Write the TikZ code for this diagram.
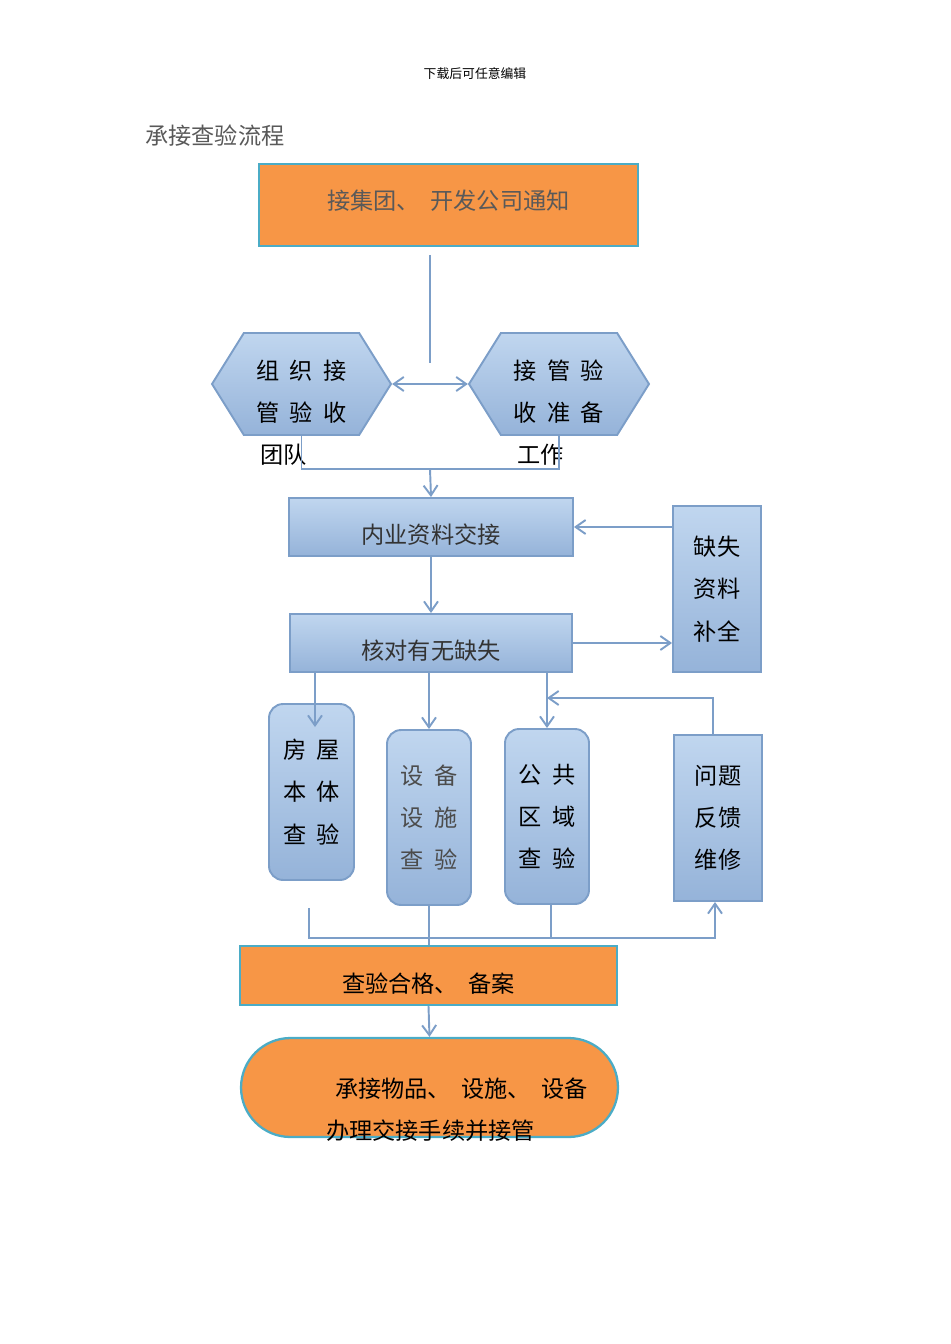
\documentclass[tikz,border=0pt]{standalone}
\usepackage{fontspec}
\setmainfont{Noto Sans CJK SC}[WordSpace=2]
\usetikzlibrary{arrows.meta,positioning,shapes.symbols}
\definecolor{planorange}{RGB}{247,150,70}
\definecolor{planedge}{RGB}{75,172,198}
\definecolor{flowblue}{RGB}{124,158,200}
\definecolor{paleblue}{RGB}{192,214,239}
\definecolor{midblue}{RGB}{149,179,217}
\definecolor{inkgray}{RGB}{89,89,89}
\tikzset{
 orangebox/.style={
 rectangle,
 draw=planedge,
 fill=planorange,
 line width=1.3pt,
 align=center,
 font=\fontsize{13.2}{24}\selectfont
 },
 bluebox/.style={
 rectangle,
 draw=flowblue,
 top color=paleblue,
 bottom color=midblue,
 line width=1.1pt,
 align=center,
 font=\fontsize{13.2}{24}\selectfont
 },
 roundbox/.style={bluebox, rounded corners=0.28cm},
 hexbox/.style={bluebox, signal, signal to=east and west, signal pointer angle=116, text height=44.7pt, text depth=1.5pt},
 lowtext/.style={text height=20.6pt, text depth=1.5pt},
 caption/.style={anchor=west, inner sep=0, font=\fontsize{13.2}{24}\selectfont},
 link/.style={line width=1.1pt, draw=flowblue},
 flowarrow/.style={link, -{Straight Barb[length=2mm,width=2.8mm]}},
 pairarrow/.style={link, {Straight Barb[length=2mm,width=2.8mm]}-{Straight Barb[length=2mm,width=2.8mm]}}
}

\begin{document}
\begin{tikzpicture}[x=0.02cm,y=-0.02cm]
	\useasboundingbox (0,0) rectangle (950,1344);
	\node[font=\fontsize{7.3}{9}\selectfont] (note) at (475,74) {下载后可任意编辑};
	\node[caption, text=inkgray] (title) at (145,136) {承接查验流程};

	\node[orangebox, minimum width=7.58cm, minimum height=1.64cm, text=inkgray, text height=11.4pt, text depth=6.1pt] (notice) at (448.5,205) {接集团、 开发公司通知};

	\node[hexbox, minimum width=3.58cm, minimum height=2.04cm] (team) at (301.5,384) {组 织 接\\管 验 收};
	\node[hexbox, minimum width=3.6cm, minimum height=2.04cm] (prep) at (559,384) {接 管 验\\收 准 备};
	\node[caption] (teamtail) at (260,455) {团队};
	\node[caption] (preptail) at (517,455) {工作};

	\node[bluebox, lowtext, minimum width=5.68cm, minimum height=1.16cm, text=black!80] (docs) at (431,527) {内业资料交接};
	\node[bluebox, lowtext, minimum width=5.64cm, minimum height=1.16cm, text=black!80] (check) at (431,643) {核对有无缺失};
	\node[bluebox, minimum width=1.76cm, minimum height=3.32cm] (supply) at (717,589) {缺失\\资料\\补全};

	\node[roundbox, minimum width=1.7cm, minimum height=3.52cm] (house) at (311.5,792) {房 屋\\本 体\\查 验};
	\node[roundbox, minimum width=1.68cm, minimum height=3.5cm, text=black!70] (equip) at (429,817.5) {设 备\\设 施\\查 验};
	\node[roundbox, minimum width=1.68cm, minimum height=3.5cm] (public) at (547,816.5) {公 共\\区 域\\查 验};
	\node[bluebox, minimum width=1.76cm, minimum height=3.32cm] (repair) at (718,818) {问题\\反馈\\维修};

	\node[orangebox, lowtext, minimum width=7.54cm, minimum height=1.18cm] (pass) at (428.5,975.5) {查验合格、 备案};
	\node[orangebox, rounded corners=0.99cm, minimum width=7.54cm, minimum height=1.98cm] (handover) at (429.5,1087.5) {};
	\node[align=left, inner sep=0, font=\fontsize{13.2}{24}\selectfont] (handtext) at (457,1110) {\hspace{0.18cm}承接物品、 设施、 设备\\办理交接手续并接管};

	% upper part
	\coordinate (drop) at (430,363);
	\draw[link] (430,255) -- (drop);
	\draw[pairarrow] (team.east) -- (prep.west);
	\coordinate (join) at (430,469);
	\draw[link] (team.south) |- (join) -| (prep.south);
	\draw[flowarrow] (join) -- (docs.north);
	\draw[flowarrow] (docs.south) -- (check.north);
	\draw[flowarrow] (supply.west |- docs.east) -- (docs.east);
	\draw[flowarrow] (check.east) -- (supply.west |- check.east);

	% checks
	\draw[flowarrow] (check.south -| 315,0) -- ([xshift=0.07cm,yshift=-0.48cm]house.north);
	\draw[flowarrow] (check.south -| equip.north) -- (equip.north);
	\draw[flowarrow] (check.south -| public.north) -- (public.north);
	\draw[flowarrow] ([xshift=-0.1cm]repair.north) |- (public.north |- 0,698);

	% lower part
	\coordinate (sweep) at (309,908);
	\draw[flowarrow] (sweep) |- (715,938) -- (repair.south -| 715,0);
	\draw[link] (equip.south) -- (pass.north -| equip.south);
	\draw[link] ([xshift=0.08cm]public.south) -- (551,938);
	\draw[flowarrow] (pass.south) -- (handover.north);
\end{tikzpicture}
\end{document}
